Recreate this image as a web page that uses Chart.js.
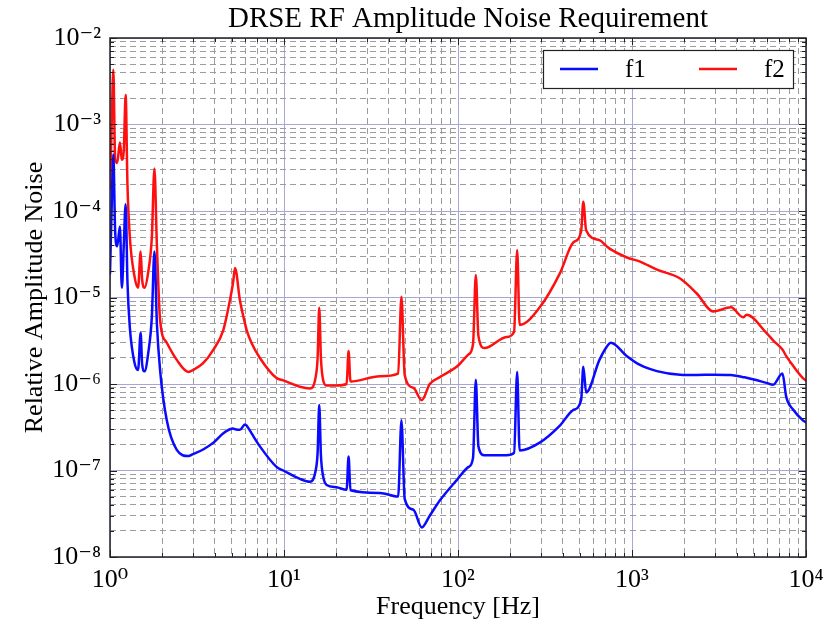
<!DOCTYPE html>
<html>
<head>
<meta charset="utf-8">
<title>DRSE RF Amplitude Noise Requirement</title>
<script src="https://cdn.jsdelivr.net/npm/chart.js@4.4.1/dist/chart.umd.min.js"></script>
<style>
  html, body { margin: 0; padding: 0; background: #fff; }
</style>
</head>
<body>
<canvas id="chart" width="823" height="627"></canvas>
<script>
// values
const freqHz = [
  1.00, 1.02, 1.045, 1.07, 1.10, 1.14, 1.17, 1.20, 1.23, 1.26,
  1.30, 1.38, 1.45, 1.50, 1.53, 1.58, 1.66, 1.74, 1.80, 1.86,
  1.94, 2.12, 2.42, 2.82, 3.0, 3.43, 3.93, 4.48, 4.89, 5.1,
  5.23, 5.58, 5.97, 6.1, 6.5, 7.27, 9.06, 9.9, 12.35, 14.1,
  15.2, 15.6, 15.94, 16.3, 16.8, 17.6, 20.0, 22.9, 23.5, 24.1,
  35.6, 45.3, 47.3, 49.4, 55.5, 61.9, 68.8, 78.6, 98.6, 115,
  122, 126.6, 131, 142, 190, 210, 218.8, 226, 295, 385,
  459, 510, 525, 545, 650, 716, 755, 935, 1112, 1390,
  1890, 2350, 2930, 3700, 4350, 4560, 5920, 6470, 7320, 7700,
  8470, 9600, 10000
];

const f2Noise = [
  1.8e-4, 8e-4, 4.3e-3, 4.0e-4, 3.6e-4, 6.2e-4, 3.9e-4, 5.0e-4, 2.2e-3, 2.0e-4,
  5.0e-5, 1.8e-5, 1.3e-5, 3.4e-5, 1.6e-5, 1.3e-5, 2.0e-5, 5.0e-5, 3.1e-4, 4.0e-5,
  5.5e-6, 3.0e-6, 1.9e-6, 1.38e-6, 1.45e-6, 1.74e-6, 2.5e-6, 4.2e-6, 9.3e-6, 1.5e-5,
  2.2e-5, 9.3e-6, 5.0e-6, 4.2e-6, 3.0e-6, 2.0e-6, 1.17e-6, 1.1e-6, 9.3e-7, 8.9e-7,
  1.2e-6, 2.0e-6, 7.6e-6, 2.0e-6, 1.1e-6, 9.6e-7, 9.6e-7, 1.0e-6, 2.4e-6, 1.07e-6,
  1.23e-6, 1.32e-6, 1.02e-5, 1.27e-6, 9.0e-7, 6.5e-7, 1.0e-6, 1.2e-6, 1.59e-6, 2.2e-6,
  2.9e-6, 1.82e-5, 3.6e-6, 2.6e-6, 3.5e-6, 4.0e-6, 3.55e-5, 4.8e-6, 7.7e-6, 1.9e-5,
  4.3e-5, 5.8e-5, 1.28e-4, 6.0e-5, 4.6e-5, 3.9e-5, 3.6e-5, 2.9e-5, 2.6e-5, 2.1e-5,
  1.66e-5, 1.12e-5, 6.9e-6, 7.7e-6, 5.9e-6, 6.3e-6, 3.9e-6, 3.2e-6, 2.5e-6, 2.1e-6,
  1.6e-6, 1.17e-6, 1.1e-6
];

const f1Noise = [
  1.9e-5, 9e-5, 4.5e-4, 6e-5, 3.9e-5, 6.6e-5, 1.3e-5, 4.0e-5, 1.2e-4, 1.5e-5,
  4.5e-6, 1.8e-6, 1.45e-6, 3.9e-6, 1.7e-6, 1.4e-6, 2.3e-6, 6e-6, 3.4e-5, 5e-6,
  1.45e-6, 3.8e-7, 1.73e-7, 1.47e-7, 1.55e-7, 1.75e-7, 2.1e-7, 2.7e-7, 3.0e-7, 3.05e-7,
  3.0e-7, 2.95e-7, 3.4e-7, 3.3e-7, 2.7e-7, 1.9e-7, 1.1e-7, 1.0e-7, 8.0e-8, 7.4e-8,
  1.0e-7, 1.6e-7, 5.7e-7, 1.5e-7, 8.5e-8, 6.8e-8, 6.4e-8, 6.0e-8, 1.45e-7, 5.9e-8,
  5.5e-8, 5.0e-8, 3.8e-7, 4.7e-8, 3.5e-8, 2.2e-8, 3.0e-8, 4.5e-8, 7.8e-8, 1.1e-7,
  1.4e-7, 1.12e-6, 1.9e-7, 1.5e-7, 1.5e-7, 1.6e-7, 1.38e-6, 1.7e-7, 2.1e-7, 3.3e-7,
  5.0e-7, 6.5e-7, 1.58e-6, 8.0e-7, 1.9e-6, 2.7e-6, 3.0e-6, 2.1e-6, 1.66e-6, 1.41e-6,
  1.28e-6, 1.27e-6, 1.28e-6, 1.27e-6, 1.2e-6, 1.18e-6, 1.03e-6, 9.8e-7, 1.32e-6, 7.1e-7,
  5.0e-7, 3.8e-7, 3.6e-7
];

const seriesNames = ['f1', 'f2'];
const seriesColors = ['#0a0aff', '#ff1010'];

const xTickValues = [1, 10, 100, 1000, 10000];
const xTickLabels = ['10⁰', '10¹', '10²', '10³', '10⁴'];
const yTickValues = [1e-8, 1e-7, 1e-6, 1e-5, 1e-4, 1e-3, 1e-2];
const yTickLabels = ['10⁻⁸', '10⁻⁷', '10⁻⁶', '10⁻⁵', '10⁻⁴', '10⁻³', '10⁻²'];

const FONT = '"Liberation Serif", "DejaVu Serif", serif';

// 1..9 x 10^e ticks between two decades
const decadeTicks = (lo, hi) => {
  const out = [];
  for (let e = lo; e <= hi; e++) {
    for (let m = 1; m <= 9; m++) {
      if (e === hi && m > 1) break;
      out.push({ value: m * Math.pow(10, e), major: m === 1 });
    }
  }
  return out;
};

const labelFor = (values, labels) => v => {
  const i = values.findIndex(t => Math.abs(Math.log10(t) - Math.log10(v)) < 1e-6);
  return i >= 0 ? labels[i] : '';
};

const gridColor = ctx => (ctx.tick && ctx.tick.major ? '#a6a6dc' : '#9c9c9c');
const gridDash = ctx => (ctx.tick && ctx.tick.major ? [] : [6, 4]);

const toPoints = ys => freqHz.map((f, i) => ({ x: f, y: ys[i] }));

const framePlugin = {
  id: 'frame',
  afterDatasetsDraw(chart) {
    const { ctx, chartArea: a, scales: { x, y } } = chart;
    ctx.save();
    ctx.strokeStyle = '#222';
    ctx.lineWidth = 1;
    ctx.beginPath();
    x.ticks.forEach(t => {
      const px = Math.round(x.getPixelForValue(t.value)) + 0.5;
      const len = t.major ? 7 : 4;
      ctx.moveTo(px, a.bottom); ctx.lineTo(px, a.bottom - len);
      ctx.moveTo(px, a.top); ctx.lineTo(px, a.top + len);
    });
    y.ticks.forEach(t => {
      const py = Math.round(y.getPixelForValue(t.value)) + 0.5;
      const len = t.major ? 7 : 4;
      ctx.moveTo(a.left, py); ctx.lineTo(a.left + len, py);
      ctx.moveTo(a.right, py); ctx.lineTo(a.right - len, py);
    });
    ctx.stroke();
    ctx.lineWidth = 1.5;
    ctx.strokeRect(a.left, a.top, a.right - a.left, a.bottom - a.top);
    ctx.restore();
  }
};

const titlePlugin = {
  id: 'plotTitle',
  afterDraw(chart) {
    const { ctx, chartArea: a } = chart;
    ctx.save();
    ctx.font = '29px ' + FONT;
    ctx.fillStyle = '#000';
    ctx.textAlign = 'center';
    ctx.textBaseline = 'middle';
    ctx.fillText('DRSE RF Amplitude Noise Requirement', (a.left + a.right) / 2 + 10, 19);
    ctx.restore();
  }
};

const legendPlugin = {
  id: 'legendBox',
  afterDraw(chart) {
    const { ctx, chartArea: a } = chart;
    const w = 250, h = 38;
    const bx = a.right - 13 - w, by = a.top + 12;
    ctx.save();
    ctx.fillStyle = '#fff';
    ctx.fillRect(bx, by, w, h);
    ctx.strokeStyle = '#222';
    ctx.lineWidth = 1.2;
    ctx.strokeRect(bx + 0.5, by + 0.5, w, h);
    ctx.font = '25px ' + FONT;
    ctx.textBaseline = 'middle';
    chart.data.datasets.forEach((ds, i) => {
      const ox = bx + 17 + i * 139;
      ctx.strokeStyle = ds.borderColor;
      ctx.lineWidth = 2.5;
      ctx.beginPath();
      ctx.moveTo(ox, by + 19);
      ctx.lineTo(ox + 38, by + 19);
      ctx.stroke();
      ctx.fillStyle = '#000';
      ctx.fillText(ds.label, ox + 65, by + 20);
    });
    ctx.restore();
  }
};

new Chart(document.getElementById('chart').getContext('2d'), {
  type: 'line',
  data: {
    datasets: [f1Noise, f2Noise].map((ys, i) => ({
      label: seriesNames[i],
      data: toPoints(ys),
      borderColor: seriesColors[i],
      backgroundColor: seriesColors[i],
      borderWidth: 2.5,
      pointRadius: 0,
      cubicInterpolationMode: 'monotone',
      borderJoinStyle: 'round',
      borderCapStyle: 'round'
    }))
  },
  options: {
    responsive: false,
    animation: false,
    devicePixelRatio: 1,
    layout: { padding: { top: 38, right: 17, left: 0, bottom: 0 } },
    plugins: {
      legend: { display: false },
      title: { display: false },
      tooltip: { enabled: false }
    },
    scales: {
      x: {
        type: 'logarithmic',
        min: 1,
        max: 10000,
        afterBuildTicks: s => { s.ticks = decadeTicks(0, 4); },
        afterFit: s => { s.height = 70; s.paddingLeft = 0; s.paddingRight = 0; },
        grid: { color: gridColor, lineWidth: 1, drawTicks: false },
        border: { display: false, dash: gridDash },
        ticks: {
          autoSkip: false,
          maxRotation: 0,
          padding: 8,
          color: '#000',
          font: { family: FONT, size: 26 },
          callback: labelFor(xTickValues, xTickLabels)
        },
        title: {
          display: true,
          text: 'Frequency [Hz]',
          color: '#000',
          font: { family: FONT, size: 26 },
          padding: { top: 0, bottom: 4 }
        }
      },
      y: {
        type: 'logarithmic',
        min: 1e-8,
        max: 1e-2,
        afterBuildTicks: s => { s.ticks = decadeTicks(-8, -2); },
        afterFit: s => { s.width = 110; s.paddingTop = 0; s.paddingBottom = 0; },
        grid: { color: gridColor, lineWidth: 1, drawTicks: false },
        border: { display: false, dash: gridDash },
        ticks: {
          autoSkip: false,
          padding: 9,
          color: '#000',
          font: { family: FONT, size: 26 },
          callback: labelFor(yTickValues, yTickLabels)
        },
        title: {
          display: true,
          text: 'Relative Amplitude Noise',
          color: '#000',
          font: { family: FONT, size: 26 },
          padding: { top: 20, bottom: 0 }
        }
      }
    }
  },
  plugins: [framePlugin, titlePlugin, legendPlugin]
});
</script>
</body>
</html>
